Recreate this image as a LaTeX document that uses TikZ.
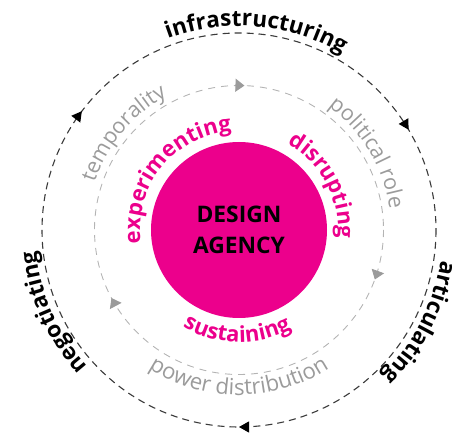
\documentclass[tikz,border=0pt]{standalone}
\usepackage{fontspec}
\setmainfont{Open Sans}
\usetikzlibrary{decorations.text,decorations.markings,arrows.meta}
\definecolor{mag}{HTML}{EC008C}
\definecolor{txtgray}{HTML}{9B9B9B}
\definecolor{dashgray}{HTML}{B4B4B4}
\definecolor{outerline}{HTML}{3A3A3A}
\begin{document}
\begin{tikzpicture}[x=1pt,y=1pt,
  curvetext/.style={decorate,decoration={text along path,text align=center,#1}},
  outerring/.style={draw=outerline, line width=1.1pt, dash pattern=on 7pt off 5pt},
  innerring/.style={draw=dashgray, line width=0.9pt, dash pattern=on 7pt off 6pt},
  outertip/.tip={Triangle[length=10pt,width=11pt]},
  innertip/.tip={Triangle[length=9pt,width=13pt]},
]
\useasboundingbox (0,0) rectangle (457,433);
\coordinate (C) at (239,203);
% central disc
\node[circle, fill=mag, minimum size=176pt, inner sep=0pt] (core) at (C) {};
\node[font=\bfseries\fontsize{22.8}{31}\selectfont, align=center, text=black] (title) at (C) {DESIGN\\AGENCY};
% outer ring (clockwise)
\path[outerring, postaction={decorate}, decoration={markings,
   mark=at position 0.25 with {\arrow[black]{outertip}},
   mark=at position 0.603 with {\arrow[black]{outertip}},
   mark=at position 0.915 with {\arrow[black]{outertip}}}]
   (C) ++(0:197) arc[start angle=360, end angle=0, radius=197];
% inner ring (clockwise)
\path[innerring, postaction={decorate}, decoration={markings,
   mark=at position 0.0556 with {\arrow[txtgray]{innertip}},
   mark=at position 0.422 with {\arrow[txtgray]{innertip}},
   mark=at position 0.756 with {\arrow[txtgray]{innertip}}}]
   (C) ++(0:144.5) arc[start angle=360, end angle=0, radius=144.5];
% outer labels
\path[curvetext={text={|\bfseries\fontsize{22.5}{27}\selectfont|infrastructuring}, text color=black}]
   (C) ++(145:204) arc[start angle=145, end angle=25, radius=204];
\path[curvetext={text={|\bfseries\fontsize{22.5}{27}\selectfont|articulating}, text color=black}]
   (C) ++(33:204) arc[start angle=33, end angle=-87, radius=204];
\path[curvetext={text={|\bfseries\fontsize{22.5}{27}\selectfont|negotiating}, text color=black}]
   (C) ++(264:204) arc[start angle=264, end angle=144, radius=204];
% middle labels
\path[curvetext={text={|\fontsize{21.5}{26}\selectfont|temporality}, text color=txtgray}]
   (C) ++(200:152) arc[start angle=200, end angle=80, radius=152];
\path[curvetext={text={|\fontsize{21.5}{26}\selectfont|political role}, text color=txtgray}]
   (C) ++(91:152) arc[start angle=91, end angle=-29, radius=152];
\path[curvetext={text={|\fontsize{22.2}{26}\selectfont|power distribution}, text color=txtgray}]
   (C) ++(200:165) arc[start angle=200, end angle=340, radius=165];
% inner labels
\path[curvetext={text={|\bfseries\fontsize{22}{26}\selectfont|experimenting}, text color=mag}]
   (C) ++(221:99) arc[start angle=221, end angle=61, radius=99];
\path[curvetext={text={|\bfseries\fontsize{22}{26}\selectfont|disrupting}, text color=mag}]
   (C) ++(108:99) arc[start angle=108, end angle=-52, radius=99];
\path[curvetext={text={|\bfseries\fontsize{22}{26}\selectfont|sustaining}, text color=mag}]
   (C) ++(189:112) arc[start angle=189, end angle=349, radius=112];
\end{tikzpicture}
\end{document}
